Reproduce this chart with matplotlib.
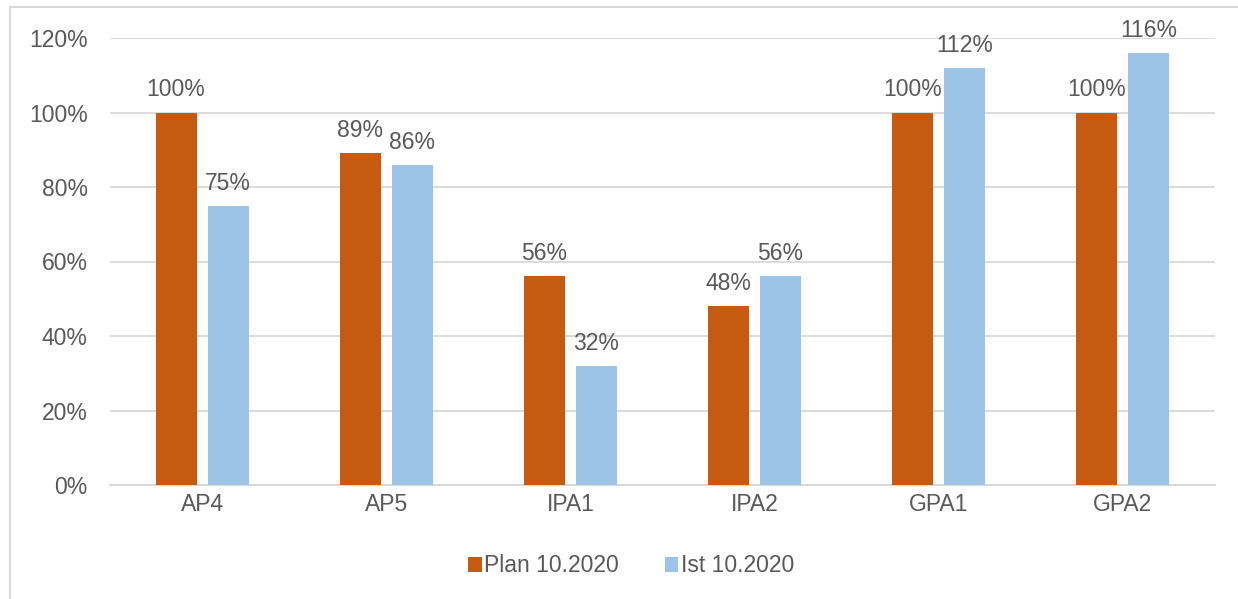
import matplotlib
matplotlib.use("Agg")
import matplotlib.pyplot as plt
import numpy as np
from matplotlib.patches import Rectangle

categories = ["AP4", "AP5", "IPA1", "IPA2", "GPA1", "GPA2"]
plan = [1.00, 0.89, 0.56, 0.48, 1.00, 1.00]
ist = [0.75, 0.86, 0.32, 0.56, 1.12, 1.16]
series_names = ["Plan 10.2020", "Ist 10.2020"]
yticks = [0, 0.2, 0.4, 0.6, 0.8, 1.0, 1.2]

plt.rcParams['font.family'] = ['Liberation Sans', 'DejaVu Sans']
txt = '#595959'
c_plan = '#C55A11'
c_ist = '#9DC3E6'
fs = 16.5

fig = plt.figure(figsize=(12.38, 5.99), dpi=100)
ax = fig.add_axes([110/1238, 1-485/599, (1215-110)/1238, (485-38)/599])

x = np.arange(len(categories))
w = 0.223
off = 0.141
b1 = ax.bar(x - off, plan, w, color=c_plan, label=series_names[0], zorder=3)
b2 = ax.bar(x + off, ist, w, color=c_ist, label=series_names[1], zorder=3)

for bars, vals in ((b1, plan), (b2, ist)):
    for r, v in zip(bars, vals):
        ax.annotate(f"{v*100:.0f}%", (r.get_x() + r.get_width()/2, v),
                    xytext=(0, 8), textcoords='offset points',
                    ha='center', va='bottom', fontsize=fs, color=txt)

ax.set_xlim(-0.5, len(categories) - 0.5)
ax.set_ylim(0, 1.2)
ax.set_yticks(yticks)
ax.set_yticklabels([f"{t*100:.0f}%" for t in yticks])
ax.set_xticks(x)
ax.set_xticklabels(categories)
ax.tick_params(axis='both', length=0, labelsize=fs, labelcolor=txt)
ax.tick_params(axis='y', pad=16)
ax.tick_params(axis='x', pad=6)
ax.grid(axis='y', color='#D9D9D9', linewidth=1.3, zorder=0)
for s in ['top', 'right', 'left']:
    ax.spines[s].set_visible(False)
ax.spines['bottom'].set_color('#D9D9D9')
ax.spines['bottom'].set_linewidth(1.5)

leg = fig.legend(loc='center', bbox_to_anchor=(631/1238, 1-566/599), ncol=2,
                 frameon=False, fontsize=fs, handlelength=0.6, handleheight=0.6,
                 handletextpad=0.1, columnspacing=2.0)
for t in leg.get_texts():
    t.set_color(txt)

fig.patches.append(Rectangle((10/1238, -0.05), 1.1, 1 - 7/599 + 0.05,
                             transform=fig.transFigure, fill=False,
                             edgecolor='#D9D9D9', linewidth=1.5))

fig.savefig("out.png", dpi=100, facecolor='white')
